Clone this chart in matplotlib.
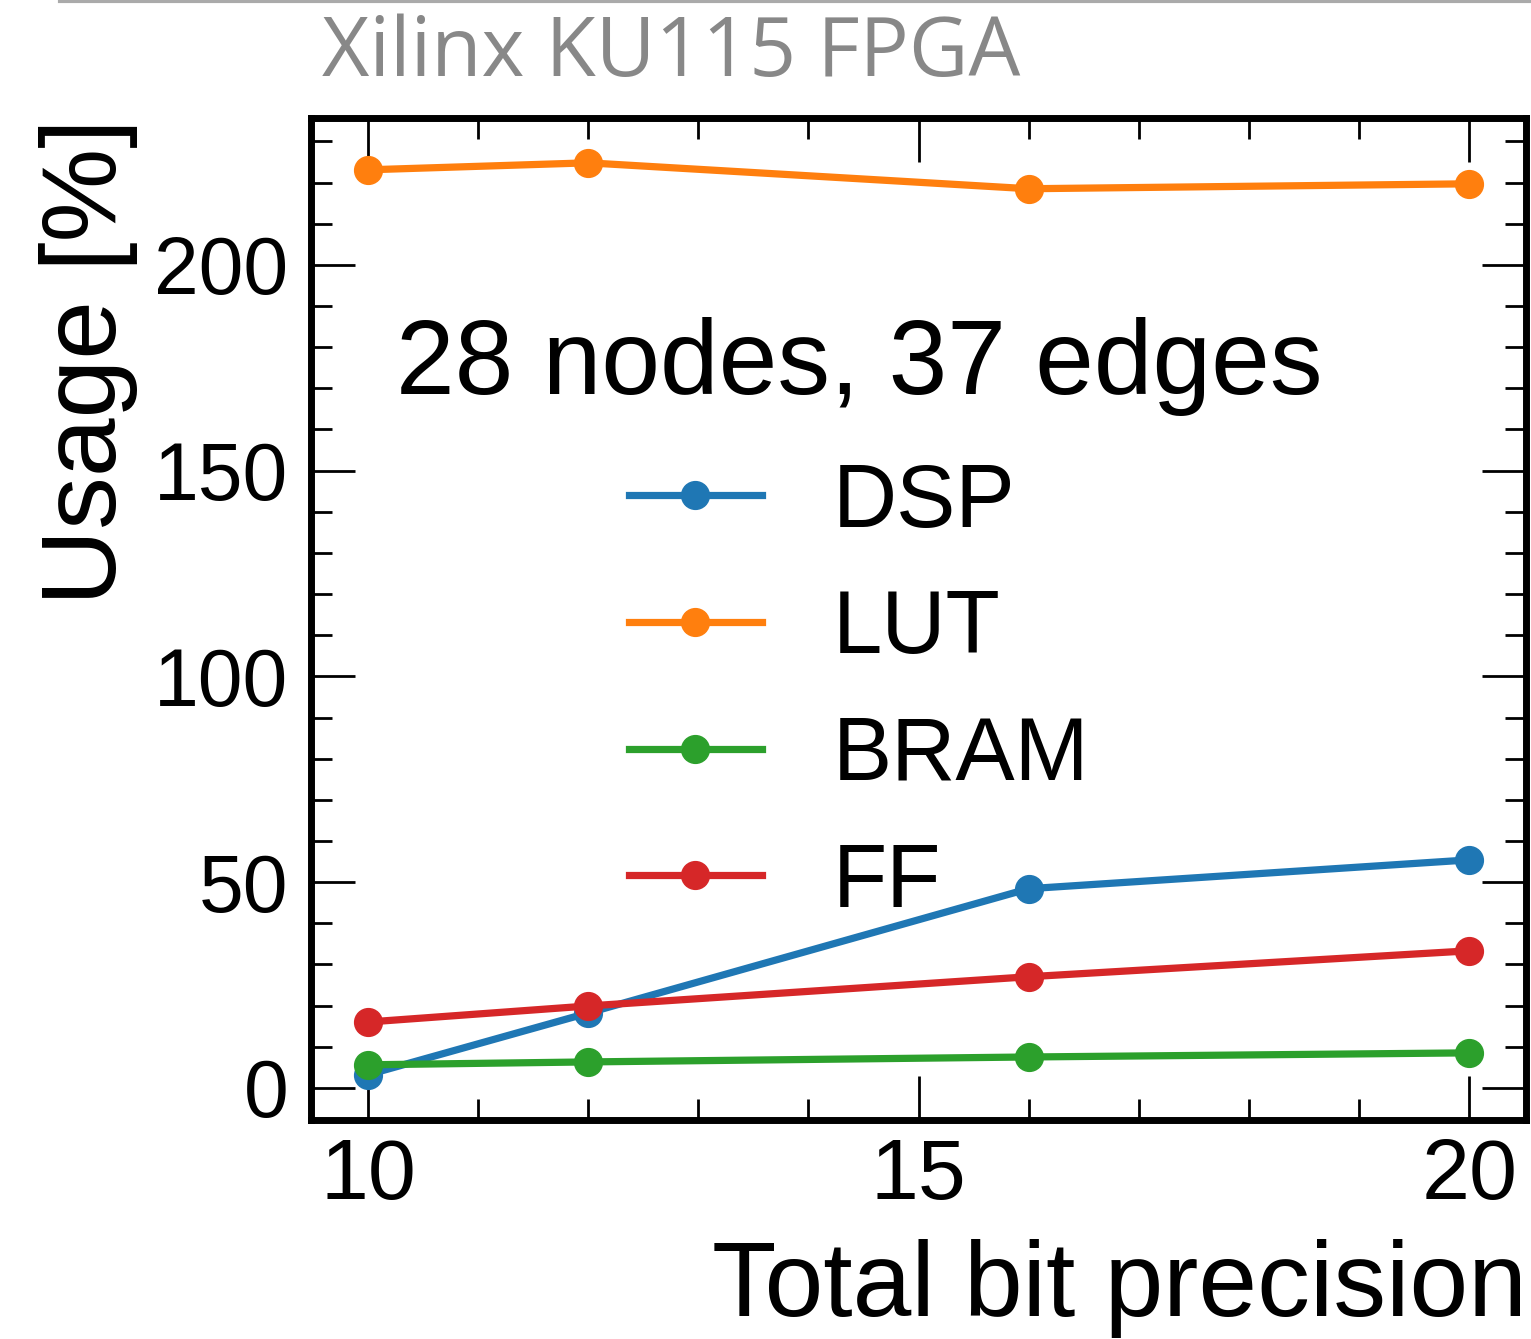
import matplotlib
matplotlib.use("Agg")
import matplotlib.pyplot as plt
from matplotlib.lines import Line2D
from matplotlib.ticker import MultipleLocator

# Resource usage vs. total bit precision
bits = [10, 12, 16, 20]
dsp = [3.2, 18.2, 48.4, 55.4]
lut = [223.1, 224.8, 218.5, 219.7]
bram = [5.6, 6.3, 7.5, 8.5]
ff = [16.0, 19.9, 27.0, 33.3]
series_names = ["DSP", "LUT", "BRAM", "FF"]
series_colors = ["#1f77b4", "#ff7f0e", "#2ca02c", "#d62728"]

plt.rcParams["font.family"] = ["Liberation Sans", "DejaVu Sans"]

fig = plt.figure(figsize=(15.31, 13.39), dpi=100)
ax = fig.add_axes([0.203, 0.1636, 0.794, 0.7483])

for name, vals, col in zip(series_names, [dsp, lut, bram, ff], series_colors):
    ax.plot(bits, vals, "-o", color=col, lw=5.2, ms=20, label=name)

ax.set_xlim(9.48, 20.52)
ax.set_ylim(-7.8, 235.7)
ax.xaxis.set_major_locator(MultipleLocator(5))
ax.xaxis.set_minor_locator(MultipleLocator(1))
ax.yaxis.set_major_locator(MultipleLocator(50))
ax.yaxis.set_minor_locator(MultipleLocator(10))
ax.tick_params(which="both", direction="in", top=True, right=True, width=2.0)
ax.tick_params(which="major", length=32)
ax.tick_params(which="minor", length=15)
ax.tick_params(axis="x", which="major", labelsize=62, pad=12)
ax.tick_params(axis="y", which="major", labelsize=58, pad=16)
for sp in ax.spines.values():
    sp.set_linewidth(5)

ax.set_xlabel("Total bit precision", fontsize=76, ha="right", x=1.0, labelpad=16)
ax.set_ylabel("Usage [%]", fontsize=76, ha="right", y=1.0, labelpad=12)

leg = ax.legend(title="28 nodes, 37 edges", frameon=False, fontsize=64,
                title_fontproperties={"size": 76}, loc="upper center",
                bbox_to_anchor=(0.451, 0.846), handlelength=1.5,
                handletextpad=0.8, labelspacing=0.48, borderpad=0)
leg._legend_box.sep = 33

fig.text(0.21, 0.943, "Xilinx KU115 FPGA", fontsize=59, color="#888888",
         family=["Open Sans", "DejaVu Sans"], ha="left", va="baseline")
fig.add_artist(Line2D([0.039, 1.0], [0.9995, 0.9995], color="#aaaaaa", lw=3,
                      transform=fig.transFigure))

fig.savefig("out.png", dpi=100)
